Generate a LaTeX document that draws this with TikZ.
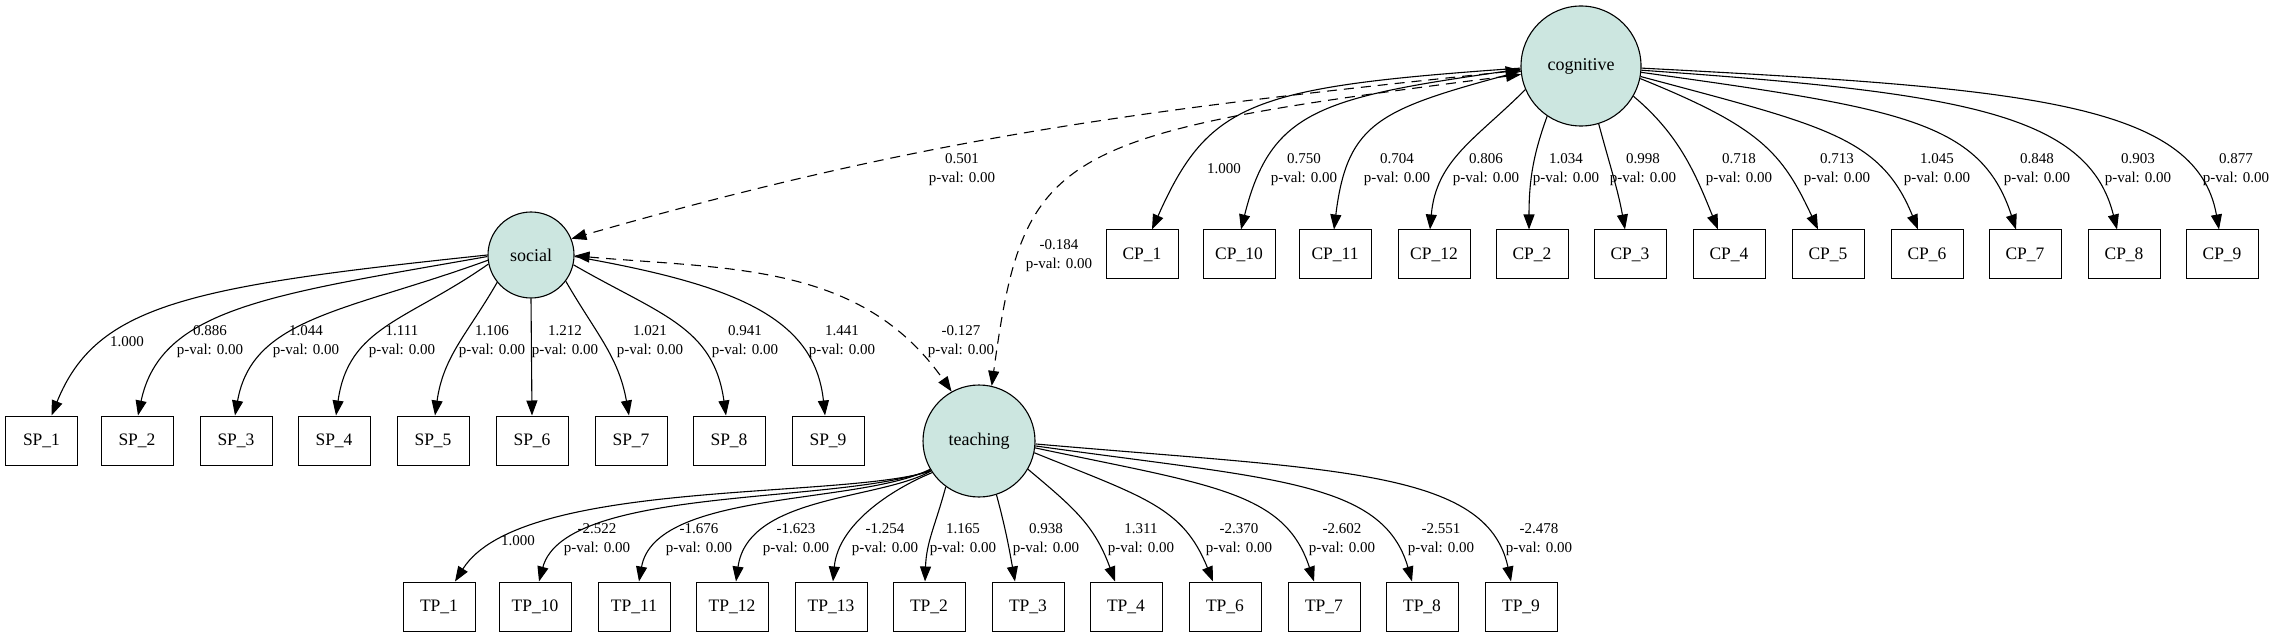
\documentclass[tikz,border=0pt]{standalone}
\usepackage{fontspec}
\setmainfont{Liberation Serif}
\usetikzlibrary{arrows.meta}
\definecolor{latfill}{RGB}{204,230,224}
\begin{document}
\begin{tikzpicture}[x=1pt,y=1pt,
  lat/.style={circle,draw,line width=1.1pt,fill=latfill,inner sep=0pt,font=\fontsize{18}{22}\selectfont},
  ind/.style={rectangle,draw,line width=1.0pt,minimum width=72pt,minimum height=49pt,inner sep=0pt,font=\fontsize{17.5}{22}\selectfont},
  ld/.style={line width=1.1pt,-{Triangle[length=15pt,width=11pt]}},
  cov/.style={line width=1.1pt,dash pattern=on 10pt off 7pt,{Triangle[length=15pt,width=11pt]}-{Triangle[length=15pt,width=11pt]}},
  lab/.style={align=center,inner sep=0pt,font=\fontsize{15}{19}\selectfont}]
\fill[white] (0,0) rectangle (2277,-636);
\useasboundingbox (0,0) rectangle (2277,-636);

% latent variables
\node[lat,minimum size=120pt] (cog) at (1581,-66) {cognitive};
\node[lat,minimum size=86pt] (soc) at (531,-255) {social};
\node[lat,minimum size=112pt] (teach) at (979,-441) {teaching};

% cognitive indicators
\node[ind] (CP1)  at (1142,-254.5) {CP\_1};
\node[ind] (CP10) at (1239,-254.5) {CP\_10};
\node[ind] (CP11) at (1335,-254.5) {CP\_11};
\node[ind] (CP12) at (1434,-254.5) {CP\_12};
\node[ind] (CP2)  at (1532,-254.5) {CP\_2};
\node[ind] (CP3)  at (1630,-254.5) {CP\_3};
\node[ind] (CP4)  at (1729,-254.5) {CP\_4};
\node[ind] (CP5)  at (1828,-254.5) {CP\_5};
\node[ind] (CP6)  at (1927,-254.5) {CP\_6};
\node[ind] (CP7)  at (2025,-254.5) {CP\_7};
\node[ind] (CP8)  at (2124,-254.5) {CP\_8};
\node[ind] (CP9)  at (2222,-254.5) {CP\_9};

% social indicators
\node[ind] (SP1) at (41.5,-440.5) {SP\_1};
\node[ind] (SP2) at (137,-440.5) {SP\_2};
\node[ind] (SP3) at (236,-440.5) {SP\_3};
\node[ind] (SP4) at (334,-440.5) {SP\_4};
\node[ind] (SP5) at (433,-440.5) {SP\_5};
\node[ind] (SP6) at (532,-440.5) {SP\_6};
\node[ind] (SP7) at (631,-440.5) {SP\_7};
\node[ind] (SP8) at (729,-440.5) {SP\_8};
\node[ind] (SP9) at (828,-440.5) {SP\_9};

% teaching indicators
\node[ind] (TP1)  at (439,-606.5) {TP\_1};
\node[ind] (TP10) at (535,-606.5) {TP\_10};
\node[ind] (TP11) at (634,-606.5) {TP\_11};
\node[ind] (TP12) at (732,-606.5) {TP\_12};
\node[ind] (TP13) at (831,-606.5) {TP\_13};
\node[ind] (TP2)  at (929,-606.5) {TP\_2};
\node[ind] (TP3)  at (1028,-606.5) {TP\_3};
\node[ind] (TP4)  at (1126,-606.5) {TP\_4};
\node[ind] (TP6)  at (1225,-606.5) {TP\_6};
\node[ind] (TP7)  at (1324,-606.5) {TP\_7};
\node[ind] (TP8)  at (1422,-606.5) {TP\_8};
\node[ind] (TP9)  at (1521,-606.5) {TP\_9};

% cognitive loadings
\draw[ld] (cog.182) .. controls +(184:270) and +(66:140) .. ([xshift=10pt]CP1.north);
\draw[ld] (cog.183) .. controls +(188:200) and +(76:125) .. ([xshift=2pt]CP10.north);
\draw[ld] (cog.185) .. controls +(195:145) and +(83:110) .. ([xshift=-1pt]CP11.north);
\draw[ld] (cog.203) .. controls +(225:70) and +(85:70) .. ([xshift=-4pt]CP12.north);
\draw[ld] (cog.236) .. controls +(250:40) and +(90:50) .. ([xshift=-3pt]CP2.north);
\draw[ld] (cog.287) .. controls +(285:40) and +(100:40) .. ([xshift=-5pt]CP3.north);
\draw[ld] (cog.330) .. controls +(320:60) and +(112:60) .. ([xshift=-11pt]CP4.north);
\draw[ld] (cog.348) .. controls +(338:130) and +(115:85) .. ([xshift=-10pt]CP5.north);
\draw[ld] (cog.350) .. controls +(345:190) and +(112:100) .. ([xshift=-9pt]CP6.north);
\draw[ld] (cog.354) .. controls +(352:260) and +(108:115) .. ([xshift=-9pt]CP7.north);
\draw[ld] (cog.356) .. controls +(356:320) and +(104:120) .. ([xshift=-7pt]CP8.north);
\draw[ld] (cog.358) .. controls +(357:380) and +(100:130) .. ([xshift=-3pt]CP9.north);

% social loadings
\draw[ld] (soc.180) .. controls +(186:300) and +(68:120) .. ([xshift=10pt]SP1.north);
\draw[ld] (soc.182) .. controls +(190:220) and +(78:110) .. ([xshift=1pt]SP2.north);
\draw[ld] (soc.187) .. controls +(200:150) and +(80:100) .. ([xshift=-1pt]SP3.north);
\draw[ld] (soc.192) .. controls +(215:100) and +(82:90) .. ([xshift=2pt]SP4.north);
\draw[ld] (soc.219) .. controls +(240:60) and +(82:60) .. ([xshift=2pt]SP5.north);
\draw[ld] (soc.south) -- (SP6.north);
\draw[ld] (soc.323) .. controls +(300:60) and +(100:60) .. ([xshift=-2pt]SP7.north);
\draw[ld] (soc.347) .. controls +(330:100) and +(98:90) .. ([xshift=-3pt]SP8.north);
\draw[ld] (soc.358) .. controls +(350:160) and +(96:100) .. ([xshift=-3pt]SP9.north);

% teaching loadings
\draw[ld] (teach.212) .. controls (840,-500) and (520,-478) .. ([xshift=16pt]TP1.north);
\draw[ld] (teach.211) .. controls (840,-505) and (565,-485) .. ([xshift=4pt]TP10.north);
\draw[ld] (teach.210) .. controls (860,-505) and (655,-490) .. ([xshift=5pt]TP11.north);
\draw[ld] (teach.212) .. controls (880,-500) and (748,-495) .. ([xshift=4pt]TP12.north);
\draw[ld] (teach.214) .. controls (890,-490) and (838,-525) .. ([xshift=2pt]TP13.north);
\draw[ld] (teach.234) .. controls +(255:40) and +(88:40) .. ([xshift=-4pt]TP2.north);
\draw[ld] (teach.288) .. controls +(285:35) and +(100:35) .. ([xshift=-13pt]TP3.north);
\draw[ld] (teach.330) .. controls +(320:60) and +(110:60) .. ([xshift=-11pt]TP4.north);
\draw[ld] (teach.348) .. controls +(338:120) and +(112:80) .. ([xshift=-12pt]TP6.north);
\draw[ld] (teach.353) .. controls +(348:180) and +(108:95) .. ([xshift=-10pt]TP7.north);
\draw[ld] (teach.355) .. controls +(352:240) and +(106:105) .. ([xshift=-10pt]TP8.north);
\draw[ld] (teach.357) .. controls +(355:300) and +(102:115) .. ([xshift=-10pt]TP9.north);

% covariances
\draw[cov] (cog.184) to[out=186,in=16] (soc.22);
\draw[cov] (cog.188) .. controls (1051,-134) and (1024,-149) .. (teach.77);
\draw[cov] (soc.359) to[out=355,in=125] (teach.119);

% cognitive labels
\node[lab] (lcp1)  at (1224,-169)   {1.000};
\node[lab] (lcp10) at (1304,-169.5) {0.750\\p-val: 0.00};
\node[lab] (lcp11) at (1397,-169.5) {0.704\\p-val: 0.00};
\node[lab] (lcp12) at (1486,-169.5) {0.806\\p-val: 0.00};
\node[lab] (lcp2)  at (1566,-169.5) {1.034\\p-val: 0.00};
\node[lab] (lcp3)  at (1643,-169.5) {0.998\\p-val: 0.00};
\node[lab] (lcp4)  at (1739,-169.5) {0.718\\p-val: 0.00};
\node[lab] (lcp5)  at (1837,-169.5) {0.713\\p-val: 0.00};
\node[lab] (lcp6)  at (1937,-169.5) {1.045\\p-val: 0.00};
\node[lab] (lcp7)  at (2037,-169.5) {0.848\\p-val: 0.00};
\node[lab] (lcp8)  at (2138,-169.5) {0.903\\p-val: 0.00};
\node[lab] (lcp9)  at (2236,-169.5) {0.877\\p-val: 0.00};

% social labels
\node[lab] (lsp1) at (127,-342)   {1.000};
\node[lab] (lsp2) at (210,-341.5) {0.886\\p-val: 0.00};
\node[lab] (lsp3) at (306,-341.5) {1.044\\p-val: 0.00};
\node[lab] (lsp4) at (402,-341.5) {1.111\\p-val: 0.00};
\node[lab] (lsp5) at (492,-341.5) {1.106\\p-val: 0.00};
\node[lab] (lsp6) at (565,-341.5) {1.212\\p-val: 0.00};
\node[lab] (lsp7) at (650,-341.5) {1.021\\p-val: 0.00};
\node[lab] (lsp8) at (745,-341.5) {0.941\\p-val: 0.00};
\node[lab] (lsp9) at (842,-341.5) {1.441\\p-val: 0.00};

% teaching labels
\node[lab] (ltp1)  at (518,-541)  {1.000};
\node[lab] (ltp10) at (597,-540)  {-2.522\\p-val: 0.00};
\node[lab] (ltp11) at (699,-540)  {-1.676\\p-val: 0.00};
\node[lab] (ltp12) at (796,-540)  {-1.623\\p-val: 0.00};
\node[lab] (ltp13) at (885,-540)  {-1.254\\p-val: 0.00};
\node[lab] (ltp2)  at (963,-540)  {1.165\\p-val: 0.00};
\node[lab] (ltp3)  at (1046,-540) {0.938\\p-val: 0.00};
\node[lab] (ltp4)  at (1141,-540) {1.311\\p-val: 0.00};
\node[lab] (ltp6)  at (1239,-540) {-2.370\\p-val: 0.00};
\node[lab] (ltp7)  at (1342,-540) {-2.602\\p-val: 0.00};
\node[lab] (ltp8)  at (1441,-540) {-2.551\\p-val: 0.00};
\node[lab] (ltp9)  at (1539,-540) {-2.478\\p-val: 0.00};

% covariance labels
\node[lab] (lcs) at (962,-169.5) {0.501\\p-val: 0.00};
\node[lab] (lct) at (1059,-256)  {-0.184\\p-val: 0.00};
\node[lab] (lst) at (961,-341.5) {-0.127\\p-val: 0.00};
\end{tikzpicture}
\end{document}
